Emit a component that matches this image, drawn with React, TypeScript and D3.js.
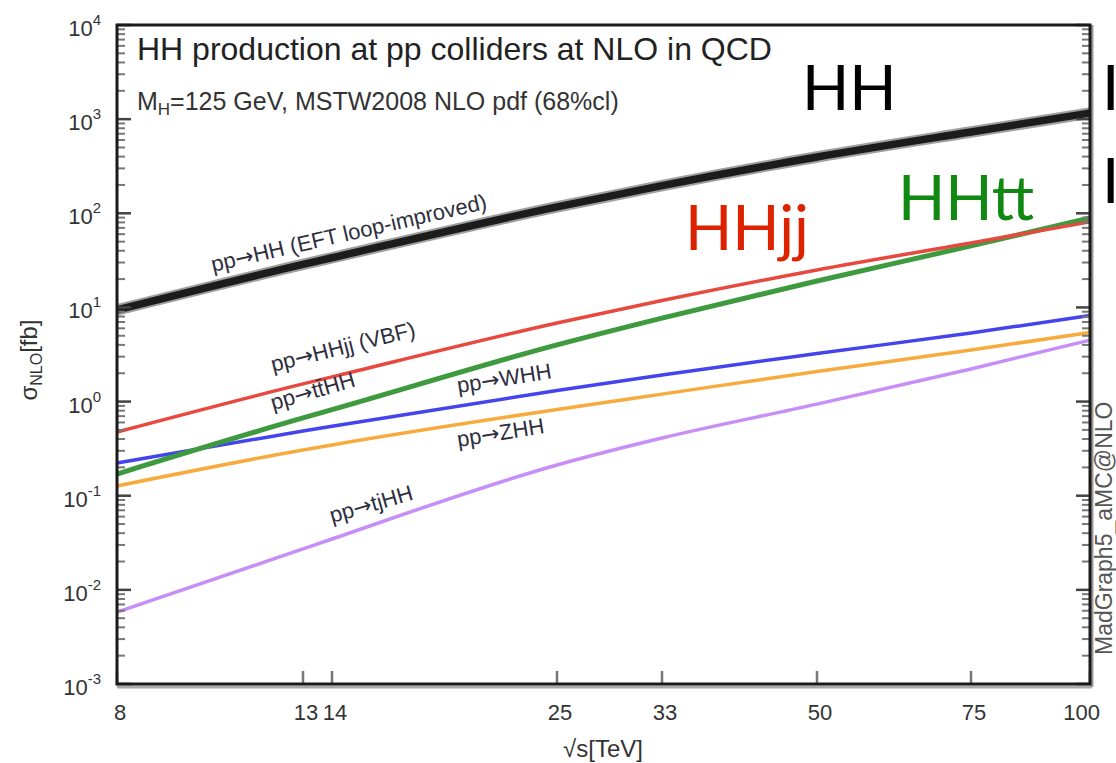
import React from "react";
import * as d3 from "d3";

// Collider energies (TeV) at which cross sections are given
const energies = [8, 13, 14, 25, 33, 50, 75, 100];

// NLO cross sections in fb
const sigmaHH = [9.4, 28.6, 33.7, 117, 197, 396, 731, 1160];
const sigmaHHjj = [0.475, 1.54, 1.83, 6.84, 11.85, 25, 48.4, 81];
const sigmaTTHH = [0.17, 0.67, 0.82, 4.0, 7.7, 19.1, 45, 89];
const sigmaWHH = [0.223, 0.487, 0.548, 1.31, 1.92, 3.24, 5.35, 8.2];
const sigmaZHH = [0.127, 0.306, 0.346, 0.824, 1.2, 2.09, 3.53, 5.42];
const sigmaTJHH = [0.0058, 0.0272, 0.0347, 0.212, 0.41, 0.94, 2.22, 4.5];

const xTickLabels = ["8", "13", "14", "25", "33", "50", "75", "100"];
const yExponents = [-3, -2, -1, 0, 1, 2, 3, 4];

// Process annotations: prefix, final state, anchor energy, anchor cross section, rotation
const procFinal = ["HH (EFT loop-improved)", "HHjj (VBF)", "tt\u0304HH", "WHH", "ZHH", "tjHH"];
const procAtE = [10.28, 12.02, 12.02, 19.38, 19.38, 14.0];
const procAtSigma = [23.8, 2.06, 0.81, 1.23, 0.33, 0.0513];
const procAngle = [-13, -14, -16, -9, -9, -16];

const W = 1116;
const H = 763;
const L = 117;
const R = 1090;
const T = 25;
const B = 684;

const FONT = "'Liberation Sans', Arial, Helvetica, sans-serif";
const BIG = "Lato, 'Open Sans', sans-serif";

export default function App() {
  // energy axis: logarithmic, calibrated piecewise at the labelled energies
  const x = d3
    .scaleLog()
    .domain(energies)
    .range([L, 303, 332, 557, 662, 817, 971, R]);
  const y = d3.scaleLog().domain([1e-3, 1e4]).range([B, T]);

  const line = (vals: number[]) =>
    d3
      .line<number>()
      .x((_, i) => x(energies[i]))
      .y((v) => y(v))
      .curve(d3.curveMonotoneX)(vals) as string;

  const minor: number[] = [];
  for (let e = -3; e < 4; e++) {
    for (let m = 2; m <= 9; m++) minor.push(m * Math.pow(10, e));
  }

  const series = [
    { vals: sigmaTJHH, color: "#c68ef6", w: 3.5 },
    { vals: sigmaZHH, color: "#f6ab3c", w: 3.5 },
    { vals: sigmaWHH, color: "#4444ee", w: 3.5 },
    { vals: sigmaTTHH, color: "#3e9a3e", w: 5 },
    { vals: sigmaHHjj, color: "#e8493f", w: 3.5 },
  ];

  return (
    <svg
      width={W}
      height={H}
      style={{ position: "absolute", left: 0, top: 0, background: "#fff" }}
      fontFamily={FONT}
    >
      <rect x={0} y={0} width={W} height={H} fill="#fff" />

      {/* curves */}
      {series.map((s, i) => (
        <path key={i} d={line(s.vals)} fill="none" stroke={s.color} strokeWidth={s.w} />
      ))}
      <path d={line(sigmaHH)} fill="none" stroke="#a0a0a0" strokeWidth={11.5} />
      <path d={line(sigmaHH)} fill="none" stroke="#1c1c1c" strokeWidth={7.5} />

      {/* y ticks, both sides */}
      {minor.map((v, i) => (
        <g key={"m" + i} stroke="#777" strokeWidth={2}>
          <line x1={L} x2={L + 8} y1={y(v)} y2={y(v)} />
          <line x1={R} x2={R - 8} y1={y(v)} y2={y(v)} />
        </g>
      ))}
      {yExponents.map((e) => (
        <g key={"M" + e} stroke="#444" strokeWidth={2.5}>
          <line x1={L} x2={L + 14} y1={y(Math.pow(10, e))} y2={y(Math.pow(10, e))} />
          <line x1={R} x2={R - 14} y1={y(Math.pow(10, e))} y2={y(Math.pow(10, e))} />
        </g>
      ))}
      {/* x ticks */}
      {energies.map((e) => (
        <line key={"x" + e} x1={x(e)} x2={x(e)} y1={B} y2={B - 13} stroke="#777" strokeWidth={2.5} />
      ))}

      {/* frame */}
      <line x1={L} x2={R + 2} y1={B + 3} y2={B + 3} stroke="#aaa" strokeWidth={3} />
      <line x1={R + 2} x2={R + 2} y1={T} y2={B + 3} stroke="#999" strokeWidth={3} />
      <rect x={L} y={T} width={R - L} height={B - T} fill="none" stroke="#1a1a1a" strokeWidth={3} />

      {/* y tick labels */}
      {yExponents.map((e) => (
        <text key={"yl" + e} x={101} y={y(Math.pow(10, e)) + 11} textAnchor="end" fontSize={22} fill="#333">
          10
          <tspan dy={-11} fontSize={15}>
            {e}
          </tspan>
        </text>
      ))}

      {/* x tick labels; the last one is kept inside the frame */}
      {energies.map((e, i) => {
        const last = i === energies.length - 1;
        return (
          <text
            key={"xl" + e}
            x={last ? x(e) + 10 : x(e) + 3}
            y={720}
            textAnchor={last ? "end" : "middle"}
            fontSize={22}
            fill="#333"
          >
            {xTickLabels[i]}
          </text>
        );
      })}

      {/* axis titles */}
      <text x={603} y={757} textAnchor="middle" fontSize={24} fill="#333">
        {"\u221As[TeV]"}
      </text>
      <text transform="translate(37,360) rotate(-90)" textAnchor="middle" fontSize={24} fill="#333">
        {"\u03C3"}
        <tspan fontSize={16} dy={5}>
          NLO
        </tspan>
        <tspan dy={-5}>[fb]</tspan>
      </text>

      {/* header */}
      <text x={137} y={60} fontSize={32} fill="#222">
        HH production at pp colliders at NLO in QCD
      </text>
      <text x={137} y={110} fontSize={25} fill="#333">
        M
        <tspan fontSize={17} dy={5}>
          H
        </tspan>
        <tspan dy={-5}>=125 GeV, MSTW2008 NLO pdf (68%cl)</tspan>
      </text>

      {/* process labels along the curves */}
      {procFinal.map((n, i) => (
        <text
          key={"p" + i}
          transform={`translate(${x(procAtE[i])},${y(procAtSigma[i])}) rotate(${procAngle[i]})`}
          fontSize={22}
          fill="#2e2e3e"
        >
          pp
          <tspan fontFamily="'DejaVu Sans', sans-serif">{"\u2192"}</tspan>
          {n}
        </text>
      ))}

      {/* generator credit */}
      <text transform="translate(1112,655) rotate(-90)" fontSize={23} fill="#555">
        MadGraph5_aMC@NLO
      </text>

      {/* channel call-outs */}
      <text x={802} y={110} fontSize={62} fontFamily={BIG} fill="#000">
        HH
      </text>
      <text x={685} y={250} fontSize={62} fontFamily={BIG} fill="#dd2200">
        HHjj
      </text>
      <text x={898} y={220} fontSize={62} fontFamily={BIG} fill="#118811">
        HHtt
      </text>
      <text x={1102} y={110} fontSize={62} fontFamily={BIG} fill="#000">
        I
      </text>
      <text x={1102} y={203} fontSize={62} fontFamily={BIG} fill="#000">
        I
      </text>
    </svg>
  );
}
